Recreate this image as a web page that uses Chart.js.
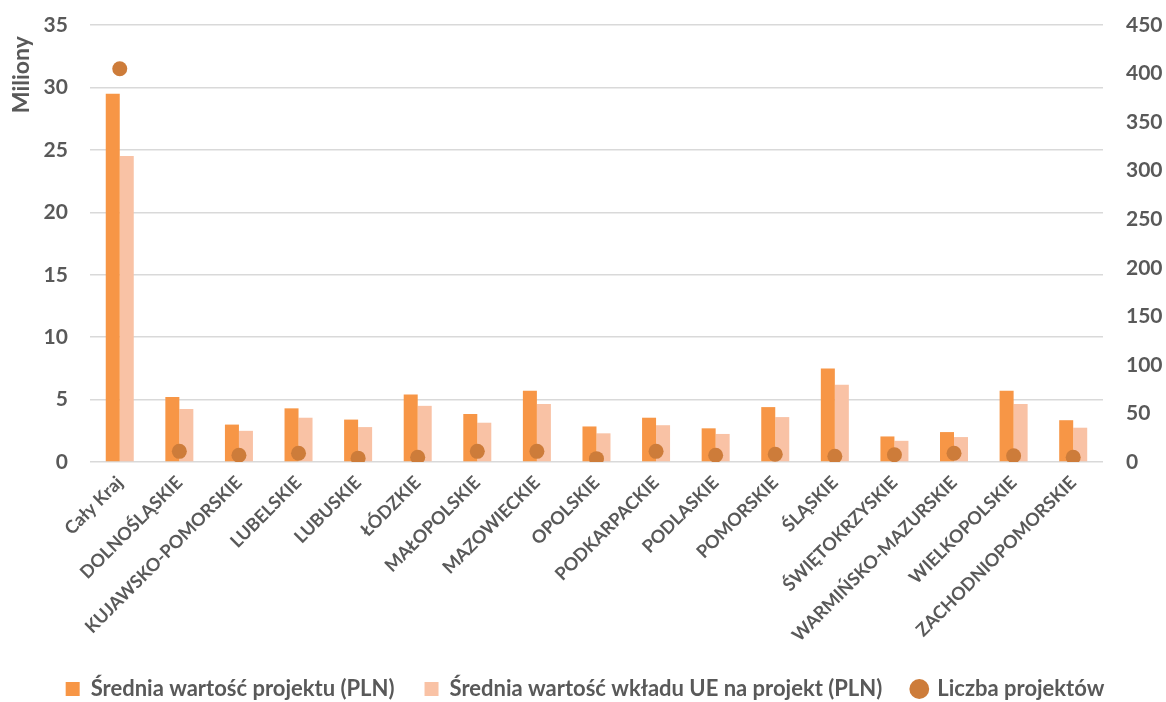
<!DOCTYPE html>
<html lang="pl">
<head>
    <meta charset="UTF-8">
    <title>Średnia wartość projektu wg województw</title>
    <script src="https://cdn.jsdelivr.net/npm/chart.js@4.4.1/dist/chart.umd.min.js"></script>
    <style>
        html, body { margin: 0; padding: 0; background: #fff; }
    </style>
</head>
<body>
    <canvas id="chart" width="1166" height="702"></canvas>

    <script>
        // dane
        const regions = ['Cały Kraj', 'DOLNOŚLĄSKIE', 'KUJAWSKO-POMORSKIE', 'LUBELSKIE', 'LUBUSKIE', 'ŁÓDZKIE',
            'MAŁOPOLSKIE', 'MAZOWIECKIE', 'OPOLSKIE', 'PODKARPACKIE', 'PODLASKIE', 'POMORSKIE', 'ŚLĄSKIE',
            'ŚWIĘTOKRZYSKIE', 'WARMIŃSKO-MAZURSKIE', 'WIELKOPOLSKIE', 'ZACHODNIOPOMORSKIE'];
        // mln PLN
        const avgProject = [29.5, 5.2, 3.0, 4.3, 3.4, 5.4, 3.85, 5.7, 2.85, 3.55, 2.7, 4.4, 7.5, 2.05, 2.4, 5.7, 3.35];
        const avgEU = [24.5, 4.25, 2.5, 3.55, 2.8, 4.5, 3.15, 4.65, 2.3, 2.95, 2.25, 3.6, 6.2, 1.7, 2.0, 4.65, 2.75];
        const projectCount = [405, 11, 7, 9, 4, 5, 11, 11, 3.5, 11, 7, 8, 6, 7.5, 9, 6.5, 5];
        const leftTicks = [0, 35, 5];
        const rightTicks = [0, 450, 50];

        const FONT = 'Lato, "Open Sans", sans-serif';
        const TXT = '#595959';

        // tick padding would otherwise also be reserved above the plot
        function noVertPadding(scale) {
            scale.paddingTop = 0;
            scale.paddingBottom = 0;
        }

        const ctx = document.getElementById('chart').getContext('2d');
        const chart = new Chart(ctx, {
            type: 'bar',
            data: {
                labels: regions,
                datasets: [{
                    label: 'Średnia wartość projektu (PLN)',
                    data: avgProject,
                    backgroundColor: '#F79646',
                    yAxisID: 'y',
                    order: 2,
                    pointStyle: 'rect'
                }, {
                    label: 'Średnia wartość wkładu UE na projekt (PLN)',
                    data: avgEU,
                    backgroundColor: '#F9C2A5',
                    yAxisID: 'y',
                    order: 2,
                    pointStyle: 'rect'
                }, {
                    type: 'line',
                    label: 'Liczba projektów',
                    data: projectCount,
                    yAxisID: 'y1',
                    showLine: false,
                    pointStyle: 'circle',
                    pointRadius: 7.5,
                    pointHoverRadius: 7.5,
                    backgroundColor: '#CD7C3A',
                    borderColor: '#CD7C3A',
                    borderWidth: 0,
                    order: 1
                }]
            },
            options: {
                responsive: false,
                animation: false,
                devicePixelRatio: 1,
                layout: { padding: { left: 4, right: 0, top: 25, bottom: -8 } },
                datasets: {
                    bar: { categoryPercentage: 0.47, barPercentage: 1.0 }
                },
                scales: {
                    x: {
                        grid: { display: false },
                        border: { display: false },
                        afterFit: (scale) => { scale.paddingRight = 0; scale.paddingLeft = 0; },
                        ticks: {
                            color: TXT,
                            font: { family: FONT, size: 18, weight: 'bold' },
                            maxRotation: 45,
                            minRotation: 45,
                            autoSkip: false,
                            padding: 2
                        }
                    },
                    y: {
                        position: 'left',
                        min: leftTicks[0],
                        max: leftTicks[1],
                        afterFit: noVertPadding,
                        ticks: {
                            stepSize: leftTicks[2],
                            color: TXT,
                            padding: 22,
                            font: { family: FONT, size: 21, weight: 'bold' }
                        },
                        grid: { color: '#D9D9D9', lineWidth: 1.5, drawTicks: false },
                        border: { display: false },
                        title: {
                            display: true,
                            text: 'Miliony  ',
                            align: 'end',
                            color: TXT,
                            padding: { top: 4, bottom: -14 },
                            font: { family: FONT, size: 23, weight: 'bold' }
                        }
                    },
                    y1: {
                        position: 'right',
                        min: rightTicks[0],
                        max: rightTicks[1],
                        afterFit: (scale) => { noVertPadding(scale); scale.width = 63; },
                        ticks: {
                            stepSize: rightTicks[2],
                            color: TXT,
                            padding: 23,
                            font: { family: FONT, size: 21, weight: 'bold' }
                        },
                        grid: { display: false, drawTicks: false },
                        border: { display: false }
                    }
                },
                plugins: {
                    legend: {
                        position: 'bottom',
                        labels: {
                            color: TXT,
                            usePointStyle: true,
                            boxWidth: 14,
                            boxHeight: 14,
                            padding: 30,
                            font: { family: FONT, size: 22, weight: 'bold' },
                            sort: (a, b) => a.datasetIndex - b.datasetIndex
                        }
                    },
                    tooltip: { enabled: false }
                }
            }
        });
    </script>
</body>
</html>
